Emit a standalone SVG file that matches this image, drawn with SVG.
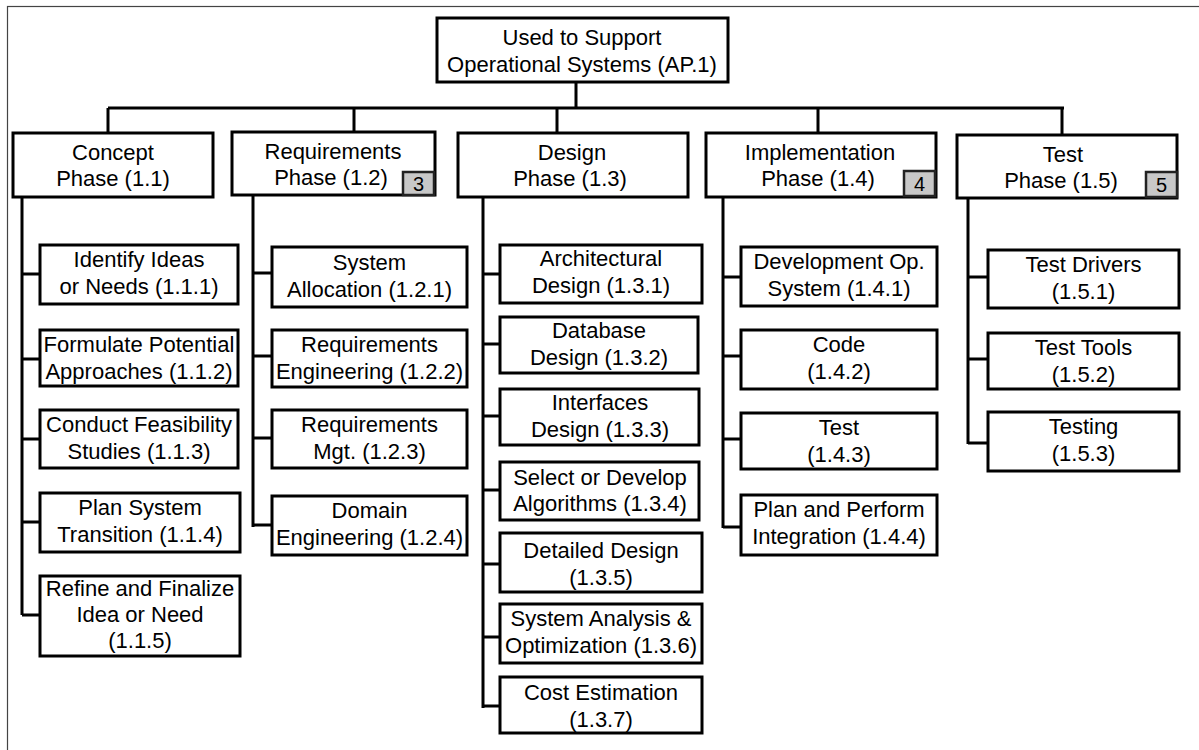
<svg xmlns="http://www.w3.org/2000/svg" width="1199" height="750" viewBox="0 0 1199 750">
<style>
.box{fill:#fff;stroke:#000;stroke-width:3}
.badge{fill:#c8c8c8;stroke:#222;stroke-width:2.5}
.t{font-family:"Liberation Sans",Arial,sans-serif;font-size:22px;text-anchor:middle;fill:#000}
.b{font-family:"Liberation Sans",Arial,sans-serif;font-size:20px;text-anchor:middle;fill:#000}
.c{fill:none;stroke:#000;stroke-width:3}
</style>
<rect x="0" y="0" width="1199" height="750" fill="#fff"/>
<rect x="7.5" y="6.5" width="1210" height="800" fill="none" stroke="#444" stroke-width="1.2"/>
<g id="connectors">
<path class="c" d="M576 82V108M108 108H1064M108 108V133M354 108V132M557 108V133M818 108V133M1062 108V135"/>
<path class="c" d="M22 197V615M22 274H40M22 359H40M22 439H40M22 522H40M22 615H40"/>
<path class="c" d="M253 194V527M253 273H272M253 356H272M253 438H272M253 525H272"/>
<path class="c" d="M483 197V708M483 274H500M483 344H500M483 416H500M483 490H500M483 564H500M483 637H500M483 706H500"/>
<path class="c" d="M723 197V528M723 277H741M723 356H741M723 439H741M723 527H741"/>
<path class="c" d="M968 198V444M968 277H988M968 359H988M968 443H988"/>
</g>
<g id="root"><rect class="box" x="437" y="18" width="291" height="64"/><text class="t" x="582" y="45">Used to Support</text><text class="t" x="582" y="72">Operational Systems (AP.1)</text></g>
<g id="p11"><rect class="box" x="13" y="133" width="200" height="64"/><text class="t" x="113" y="160">Concept</text><text class="t" x="113" y="186">Phase (1.1)</text></g>
<g id="p12"><rect class="box" x="232" y="132" width="203" height="63"/><text class="t" x="333" y="159">Requirements</text><text class="t" x="331" y="185">Phase (1.2)</text><rect class="badge" x="403" y="172" width="31" height="23"/><text class="b" x="418.5" y="191">3</text></g>
<g id="p13"><rect class="box" x="458" y="133" width="230" height="64"/><text class="t" x="572" y="160">Design</text><text class="t" x="570" y="186">Phase (1.3)</text></g>
<g id="p14"><rect class="box" x="706" y="133" width="230" height="64"/><text class="t" x="820" y="160">Implementation</text><text class="t" x="818" y="186">Phase (1.4)</text><rect class="badge" x="904" y="171" width="31" height="25"/><text class="b" x="919.5" y="191">4</text></g>
<g id="p15"><rect class="box" x="957" y="135" width="220" height="63"/><text class="t" x="1063" y="162">Test</text><text class="t" x="1061" y="188">Phase (1.5)</text><rect class="badge" x="1146" y="172" width="31" height="25"/><text class="b" x="1161.5" y="192">5</text></g>
<g id="n111"><rect class="box" x="40" y="245" width="198" height="59"/><text class="t" x="139" y="267">Identify Ideas</text><text class="t" x="139" y="294">or Needs (1.1.1)</text></g>
<g id="n112"><rect class="box" x="40" y="330" width="198" height="56"/><text class="t" x="139" y="352">Formulate Potential</text><text class="t" x="139" y="379">Approaches (1.1.2)</text></g>
<g id="n113"><rect class="box" x="40" y="410" width="198" height="58"/><text class="t" x="139" y="432">Conduct Feasibility</text><text class="t" x="139" y="459">Studies (1.1.3)</text></g>
<g id="n114"><rect class="box" x="40" y="493" width="200" height="59"/><text class="t" x="140" y="515">Plan System</text><text class="t" x="140" y="542">Transition (1.1.4)</text></g>
<g id="n115"><rect class="box" x="40" y="576" width="200" height="80"/><text class="t" x="140" y="596">Refine and Finalize</text><text class="t" x="140" y="622">Idea or Need</text><text class="t" x="140" y="648">(1.1.5)</text></g>
<g id="n121"><rect class="box" x="272" y="247" width="195" height="60"/><text class="t" x="369.5" y="270">System</text><text class="t" x="369.5" y="297">Allocation (1.2.1)</text></g>
<g id="n122"><rect class="box" x="272" y="330" width="195" height="57"/><text class="t" x="369.5" y="352">Requirements</text><text class="t" x="369.5" y="379">Engineering (1.2.2)</text></g>
<g id="n123"><rect class="box" x="272" y="410" width="195" height="58"/><text class="t" x="369.5" y="432">Requirements</text><text class="t" x="369.5" y="459">Mgt. (1.2.3)</text></g>
<g id="n124"><rect class="box" x="272" y="496" width="195" height="59"/><text class="t" x="369.5" y="518">Domain</text><text class="t" x="369.5" y="545">Engineering (1.2.4)</text></g>
<g id="n131"><rect class="box" x="500" y="245" width="202" height="58"/><text class="t" x="601" y="266">Architectural</text><text class="t" x="601" y="293">Design (1.3.1)</text></g>
<g id="n132"><rect class="box" x="500" y="317" width="198" height="56"/><text class="t" x="599" y="338">Database</text><text class="t" x="599" y="365">Design (1.3.2)</text></g>
<g id="n133"><rect class="box" x="500" y="389" width="199" height="56"/><text class="t" x="600" y="410">Interfaces</text><text class="t" x="600" y="437">Design (1.3.3)</text></g>
<g id="n134"><rect class="box" x="500" y="462" width="199" height="58"/><text class="t" x="600" y="485">Select or Develop</text><text class="t" x="600" y="511">Algorithms (1.3.4)</text></g>
<g id="n135"><rect class="box" x="500" y="533" width="202" height="59"/><text class="t" x="601" y="558">Detailed Design</text><text class="t" x="601" y="585">(1.3.5)</text></g>
<g id="n136"><rect class="box" x="500" y="604" width="202" height="59"/><text class="t" x="601" y="626">System Analysis &amp;</text><text class="t" x="601" y="653">Optimization (1.3.6)</text></g>
<g id="n137"><rect class="box" x="500" y="677" width="202" height="56"/><text class="t" x="601" y="700">Cost Estimation</text><text class="t" x="601" y="727">(1.3.7)</text></g>
<g id="n141"><rect class="box" x="741" y="247" width="196" height="59"/><text class="t" x="839" y="269">Development Op.</text><text class="t" x="839" y="296">System (1.4.1)</text></g>
<g id="n142"><rect class="box" x="741" y="330" width="196" height="59"/><text class="t" x="839" y="352">Code</text><text class="t" x="839" y="379">(1.4.2)</text></g>
<g id="n143"><rect class="box" x="741" y="413" width="196" height="56"/><text class="t" x="839" y="435">Test</text><text class="t" x="839" y="462">(1.4.3)</text></g>
<g id="n144"><rect class="box" x="741" y="495" width="196" height="60"/><text class="t" x="839" y="517">Plan and Perform</text><text class="t" x="839" y="544">Integration (1.4.4)</text></g>
<g id="n151"><rect class="box" x="988" y="250" width="191" height="58"/><text class="t" x="1083.5" y="272">Test Drivers</text><text class="t" x="1083.5" y="299">(1.5.1)</text></g>
<g id="n152"><rect class="box" x="988" y="333" width="191" height="56"/><text class="t" x="1083.5" y="355">Test Tools</text><text class="t" x="1083.5" y="382">(1.5.2)</text></g>
<g id="n153"><rect class="box" x="988" y="412" width="191" height="59"/><text class="t" x="1083.5" y="434">Testing</text><text class="t" x="1083.5" y="461">(1.5.3)</text></g>
</svg>
